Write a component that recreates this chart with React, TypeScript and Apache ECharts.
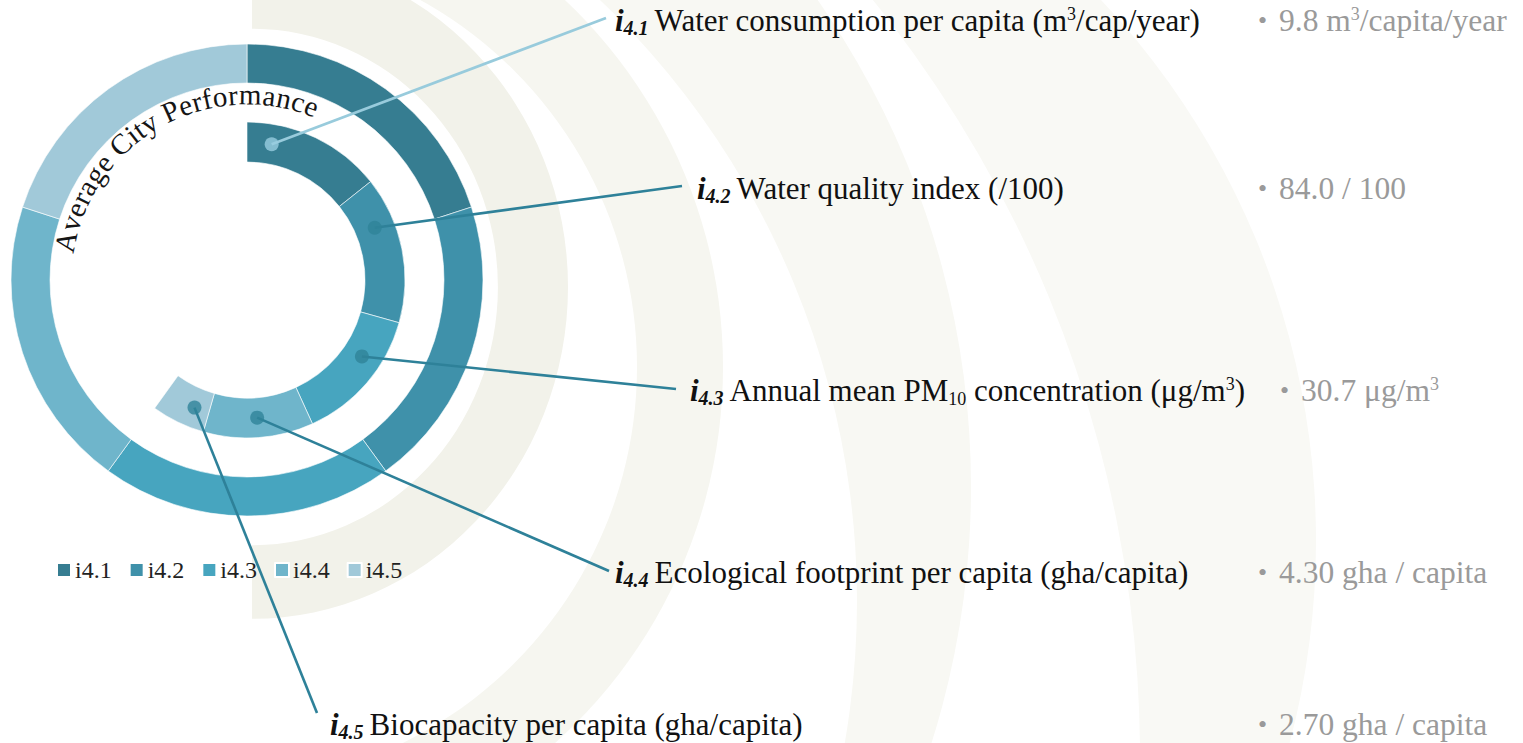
import React, { useEffect, useRef } from "react";
import * as echarts from "echarts";

// ---------------- DATA ----------------
const categories = ["i4.1", "i4.2", "i4.3", "i4.4", "i4.5"];
const indexLabels = ["4.1", "4.2", "4.3", "4.4", "4.5"];
const indicatorTitles = [
  "Water consumption per capita (m^{3}/cap/year)",
  "Water quality index (/100)",
  "Annual mean PM_{10} concentration (μg/m^{3})",
  "Ecological footprint per capita (gha/capita)",
  "Biocapacity per capita (gha/capita)",
];
const slotWeights = [1, 1, 1, 1, 1];
const performanceScores = [0.715, 0.753, 0.692, 0.563, 0.274];
const cityValues = [9.8, 84.0, 30.7, 4.3, 2.7];
const valueDecimals = [1, 1, 1, 2, 2];
const valueUnits = [" m^{3}/capita/year", " / 100", " μg/m^{3}", " gha / capita", " gha / capita"];
const centerTitle = "Average City Performance";

// ---------------- LAYOUT / STYLE ----------------
const FONT = "Liberation Serif";
const W = 1523;
const H = 743;
const CENTER = [247, 280];
const OUTER_RING = [197, 236];
const INNER_RING = [118, 158];
const MARKER_RADIUS = 138;
const markerFractions = [0.2, 0.3, 0.36, 0.5, 0.32];
const colors = ["#367d91", "#3f91aa", "#47a5bf", "#6fb5cb", "#a1c9d9"];
const markerColors = ["#98cde0", "#2f8399", "#2f8399", "#2f8399", "#2f8399"];
const leaderColors = ["#98cbdc", "#2e8199", "#2e8199", "#2e8199", "#2e8199"];
const labelAnchors = [
  [615, 20],
  [697, 188],
  [690, 390],
  [615, 572],
  [330, 724],
];
const leaderEnds = [
  [606, 18],
  [682, 186],
  [676, 389],
  [609, 571],
  [317, 713],
];
const valueX = [1258, 1258, 1280, 1258, 1258];

function toRich(str: string, base: string, sup: string, sub: string) {
  let out = "";
  const re = /(\^\{([^}]*)\}|_\{([^}]*)\})/g;
  let last = 0;
  let m: RegExpExecArray | null;
  while ((m = re.exec(str))) {
    if (m.index > last) out += `{${base}|${str.slice(last, m.index)}}`;
    if (m[2] !== undefined) out += `{${sup}|${m[2]}}`;
    else out += `{${sub}|${m[3]}}`;
    last = m.index + m[0].length;
  }
  if (last < str.length) out += `{${base}|${str.slice(last)}}`;
  return out;
}

function arcText(text: string, cx: number, cy: number, R: number, centerDeg: number, fontSize: number) {
  const canvas = document.createElement("canvas");
  const ctx = canvas.getContext("2d")!;
  ctx.font = `${fontSize}px ${FONT}`;
  const chars = Array.from(text);
  const widths = chars.map((ch) => ctx.measureText(ch).width);
  const total = widths.reduce((a, b) => a + b, 0);
  const start = (centerDeg * Math.PI) / 180 - total / 2 / R;
  let acc = 0;
  return chars.map((ch, i) => {
    const mid = acc + widths[i] / 2;
    acc += widths[i];
    const th = start + mid / R;
    return {
      type: "text",
      x: cx + R * Math.sin(th),
      y: cy - R * Math.cos(th),
      rotation: -th,
      z: 10,
      silent: true,
      style: {
        text: ch,
        fill: "#151515",
        fontFamily: FONT,
        fontSize,
        align: "center",
        verticalAlign: "bottom",
      },
    };
  });
}

function backgroundBands() {
  // decorative ripple bands: beige disc followed by white disc (layered from outermost)
  const discs = [
    { cx: 528, cy: 541, r: 788, fill: "#f9f9f5" },
    { cx: -66, cy: 757, r: 1206, fill: "#ffffff" },
    { cx: 121, cy: 487, r: 850, fill: "#f8f8f3" },
    { cx: 26, cy: 601, r: 831, fill: "#ffffff" },
    { cx: 218, cy: 367, r: 505, fill: "#f6f6f0" },
    { cx: 218, cy: 367, r: 419, fill: "#ffffff" },
  ];
  const els: any[] = discs.map((d, i) => ({
    type: "circle",
    silent: true,
    z: 0.01 * (i + 1),
    shape: { cx: d.cx, cy: d.cy, r: d.r },
    style: { fill: d.fill },
  }));
  els.push({
    type: "sector",
    silent: true,
    z: 0.08,
    x: 252,
    y: 287,
    scaleY: 1.05,
    shape: { cx: 0, cy: 0, r0: 246, r: 316, startAngle: -Math.PI / 2, endAngle: Math.PI / 2, clockwise: true },
    style: { fill: "#f2f2ea" },
  });
  els.push({
    type: "rect",
    silent: true,
    z: 0.09,
    shape: { x: 0, y: 0, width: 252, height: H },
    style: { fill: "#ffffff" },
  });
  return els;
}

export default function App() {
  const ref = useRef<HTMLDivElement>(null);
  useEffect(() => {
    if (!ref.current) return;
    const chart = echarts.init(ref.current, null, { renderer: "svg" });

    const scoreSum = performanceScores.reduce((a, b) => a + b, 0);
    const slotSum = slotWeights.reduce((a, b) => a + b, 0);
    const starts: number[] = [];
    performanceScores.reduce((acc, v, i) => {
      starts[i] = acc;
      return acc + v;
    }, 0);
    const markerData = performanceScores.map((v, i) => ({
      value: [MARKER_RADIUS, starts[i] + markerFractions[i] * v],
      itemStyle: { color: markerColors[i] },
    }));

    const option: any = {
      animation: false,
      backgroundColor: "#ffffff",
      legend: {
        data: categories,
        left: 51,
        top: 553,
        itemWidth: 14,
        itemHeight: 14,
        itemGap: 17,
        icon: "rect",
        selectedMode: false,
        textStyle: { fontFamily: FONT, fontSize: 24, color: "#222", padding: [0, 0, 0, -1] },
      },
      polar: { center: CENTER, radius: OUTER_RING[1] },
      angleAxis: { type: "value", min: 0, max: slotSum, startAngle: 90, clockwise: true, show: false },
      radiusAxis: { type: "value", min: 0, max: OUTER_RING[1], show: false },
      series: [
        {
          type: "pie",
          name: "Indicators",
          center: CENTER,
          radius: OUTER_RING,
          startAngle: 90,
          silent: true,
          label: { show: false },
          labelLine: { show: false },
          emphasis: { disabled: true },
          itemStyle: { borderColor: "#ffffff", borderWidth: 0.6 },
          data: categories.map((c, i) => ({ name: c, value: slotWeights[i], itemStyle: { color: colors[i] } })),
        },
        {
          type: "pie",
          name: "Average City Performance",
          center: CENTER,
          radius: INNER_RING,
          startAngle: 90,
          silent: true,
          label: { show: false },
          labelLine: { show: false },
          emphasis: { disabled: true },
          itemStyle: { borderColor: "#ffffff", borderWidth: 0.6 },
          data: [
            ...categories.map((c, i) => ({ name: c, value: performanceScores[i], itemStyle: { color: colors[i] } })),
            {
              name: "rest",
              value: slotSum - scoreSum,
              itemStyle: { color: "rgba(0,0,0,0)", borderWidth: 0 },
            },
          ],
        },
        {
          type: "scatter",
          coordinateSystem: "polar",
          symbol: "circle",
          symbolSize: 14,
          silent: true,
          z: 20,
          data: markerData,
        },
      ],
    };
    chart.setOption(option);

    const graphics: any[] = [...backgroundBands()];
    graphics.push(...arcText(centerTitle, CENTER[0], CENTER[1], 171, -29.5, 29));

    markerData.forEach((d, i) => {
      const p = chart.convertToPixel({ seriesIndex: 2 }, d.value as any) as number[];
      graphics.push({
        type: "line",
        silent: true,
        z: 10,
        shape: { x1: p[0], y1: p[1], x2: leaderEnds[i][0], y2: leaderEnds[i][1] },
        style: { stroke: leaderColors[i], lineWidth: 2.6 },
      });
    });

    const ink = "#111111";
    const grey = "#9a9a9a";
    const rich = {
      i: { fontFamily: FONT, fontSize: 31, fontStyle: "italic", fontWeight: "bold", fill: ink, lineHeight: 36, verticalAlign: "middle" },
      idx: { fontFamily: FONT, fontSize: 20, fontStyle: "italic", fontWeight: "bold", fill: ink, lineHeight: 20, verticalAlign: "bottom", padding: [0, 6, 0, 0] },
      ttl: { fontFamily: FONT, fontSize: 31, fill: ink, lineHeight: 36, verticalAlign: "middle" },
      tsup: { fontFamily: FONT, fontSize: 18, fill: ink, lineHeight: 20, verticalAlign: "top", padding: [3, 0, 0, 0] },
      tsub: { fontFamily: FONT, fontSize: 18, fill: ink, lineHeight: 18, verticalAlign: "bottom" },
      b: { fontFamily: FONT, fontSize: 26, fill: grey, lineHeight: 36, verticalAlign: "middle", padding: [0, 12, 0, 0] },
      v: { fontFamily: FONT, fontSize: 31.5, fill: grey, lineHeight: 36, verticalAlign: "middle" },
      vsup: { fontFamily: FONT, fontSize: 18, fill: grey, lineHeight: 20, verticalAlign: "top", padding: [3, 0, 0, 0] },
      vsub: { fontFamily: FONT, fontSize: 18, fill: grey, lineHeight: 18, verticalAlign: "bottom" },
    };

    categories.forEach((c, i) => {
      const txt = `{i|i}{idx|${indexLabels[i]}}` + toRich(indicatorTitles[i], "ttl", "tsup", "tsub");
      graphics.push({
        type: "text",
        silent: true,
        z: 10,
        x: labelAnchors[i][0],
        y: labelAnchors[i][1],
        style: { text: txt, rich, fontFamily: FONT, fontSize: 31, fill: ink, align: "left", verticalAlign: "middle" },
      });
      const valStr = cityValues[i].toFixed(valueDecimals[i]) + valueUnits[i];
      graphics.push({
        type: "text",
        silent: true,
        z: 10,
        x: valueX[i],
        y: labelAnchors[i][1],
        style: { text: "{b|•}" + toRich(valStr, "v", "vsup", "vsub"), rich, fontFamily: FONT, fontSize: 31, fill: grey, align: "left", verticalAlign: "middle" },
      });
    });

    chart.setOption({ graphic: { elements: graphics } });

    return () => chart.dispose();
  }, []);

  return (
    <div
      ref={ref}
      style={{ position: "fixed", left: 0, top: 0, width: W + "px", height: H + "px", background: "#fff" }}
    />
  );
}
